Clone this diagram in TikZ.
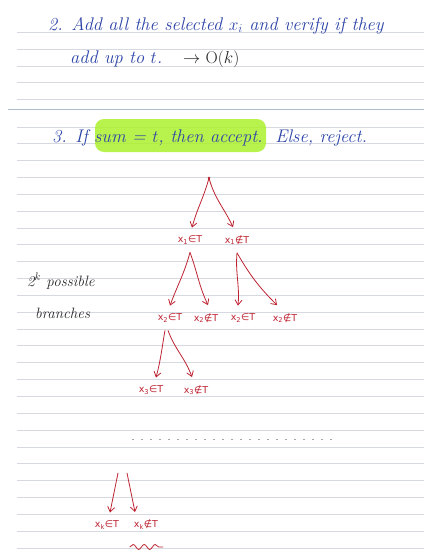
\documentclass[tikz,border=0pt]{standalone}
\usepackage{fontspec}
\newfontfamily\labfont{DejaVu Sans}
\usetikzlibrary{arrows.meta,decorations.pathmorphing}
\definecolor{ink}{RGB}{45,68,168}
\definecolor{redink}{RGB}{190,35,50}
\definecolor{rulec}{RGB}{214,218,224}
\definecolor{sepc}{RGB}{175,190,205}
\definecolor{hl}{RGB}{172,240,45}
\definecolor{pencil}{RGB}{40,40,40}
\begin{document}
\begin{tikzpicture}[x=1pt,y=-1pt,
  ruleline/.style={rulec, line width=0.9pt},
  sepline/.style={sepc, line width=1pt},
  bluetext/.style={ink, anchor=base west, inner sep=0pt, font=\fontsize{18.3}{21}\selectfont\itshape},
  blacktext/.style={pencil, anchor=base west, inner sep=0pt, font=\fontsize{15}{18}\selectfont\itshape},
  lab/.style={redink, inner sep=1pt, outer ysep=7pt, font=\fontsize{9.5}{11}\selectfont\labfont},
  arr/.style={redink, line width=0.8pt, -{Straight Barb[length=5pt,width=7pt]}},
  dotsline/.style={gray!70, line width=0.9pt, dash pattern=on 2pt off 7pt},
  squiggle/.style={redink, line width=0.8pt, decorate, decoration={snake, amplitude=2.5pt, segment length=11pt}}
]
\useasboundingbox[fill=white] (0,0) rectangle (424,554);
% ruled lines
\foreach \y in {32,49,66,82,99} \draw[ruleline] (17,\y) -- (424,\y);
\draw[sepline] (8,109) -- (424,109);
\foreach \i in {0,...,25} \draw[ruleline] (17,{127+16.84*\i}) -- (424,{127+16.84*\i});
% highlight
\fill[hl, opacity=0.85, rounded corners=9pt] (95,119) rectangle (266,152);
% texts
\node[bluetext] (t1) at (48,30) {2. Add all the selected $x_i$ and verify if they};
\node[bluetext] (t2) at (70,63) {add up to $t$.};
\node[pencil, anchor=base west, inner sep=0pt, font=\fontsize{17}{20}\selectfont] (t3) at (183,63) {$\rightarrow$ O($k$)};
\node[bluetext] (t4) at (52,142) {3. If sum = $t$, then accept.\ \ Else, reject.};
\node[blacktext] (n1) at (27,286) {2$^k$ possible};
\node[blacktext] (n2) at (35,318) {branches};
% tree
\coordinate (root) at (209,178);
\fill[redink] (root) circle (1.3pt);
\node[lab] (a1) at (190,240) {x\textsubscript{1}∈T};
\node[lab] (a2) at (237,240) {x\textsubscript{1}∉T};
\node[lab] (b1) at (170,318) {x\textsubscript{2}∈T};
\node[lab] (b2) at (206,318) {x\textsubscript{2}∉T};
\node[lab] (b3) at (243,318) {x\textsubscript{2}∈T};
\node[lab] (b4) at (285,318) {x\textsubscript{2}∉T};
\node[lab] (c1) at (151,390) {x\textsubscript{3}∈T};
\node[lab] (c2) at (196,390) {x\textsubscript{3}∉T};
\coordinate (k1) at (118,473);
\coordinate (k2) at (127,473);
\node[lab] (d1) at (107,525) {x\textsubscript{k}∈T};
\node[lab] (d2) at (146,525) {x\textsubscript{k}∉T};
\draw[arr] (root) to[out=-105,in=75] ([xshift=2pt]a1.north);
\draw[arr] (root) to[out=-75,in=115] ([xshift=-4pt]a2.north);
\draw[arr] (a1.south) to[out=-105,in=70] (b1.north);
\draw[arr] (a1.south) to[out=-70,in=115] ([xshift=2pt]b2.north);
\draw[arr] (a2.south) to[out=-95,in=85] ([xshift=-5pt]b3.north);
\draw[arr] (a2.south) to[out=-60,in=135] ([xshift=-8pt]b4.north);
\draw[arr] ([xshift=-5pt]b1.south) to[out=-100,in=75] ([xshift=5pt]c1.north);
\draw[arr] ([xshift=-2pt]b1.south) to[out=-70,in=110] ([xshift=-4pt]c2.north);
\draw[arr] (k1) -- ([xshift=3pt]d1.north);
\draw[arr] (k2) -- ([xshift=-11pt]d2.north);
\draw[dotsline] (132,439) -- (332,439);
\draw[squiggle] ([xshift=-3pt,yshift=-9pt]d2.south west) -- ([xshift=4pt,yshift=-9pt]d2.south east);
\end{tikzpicture}
\end{document}
